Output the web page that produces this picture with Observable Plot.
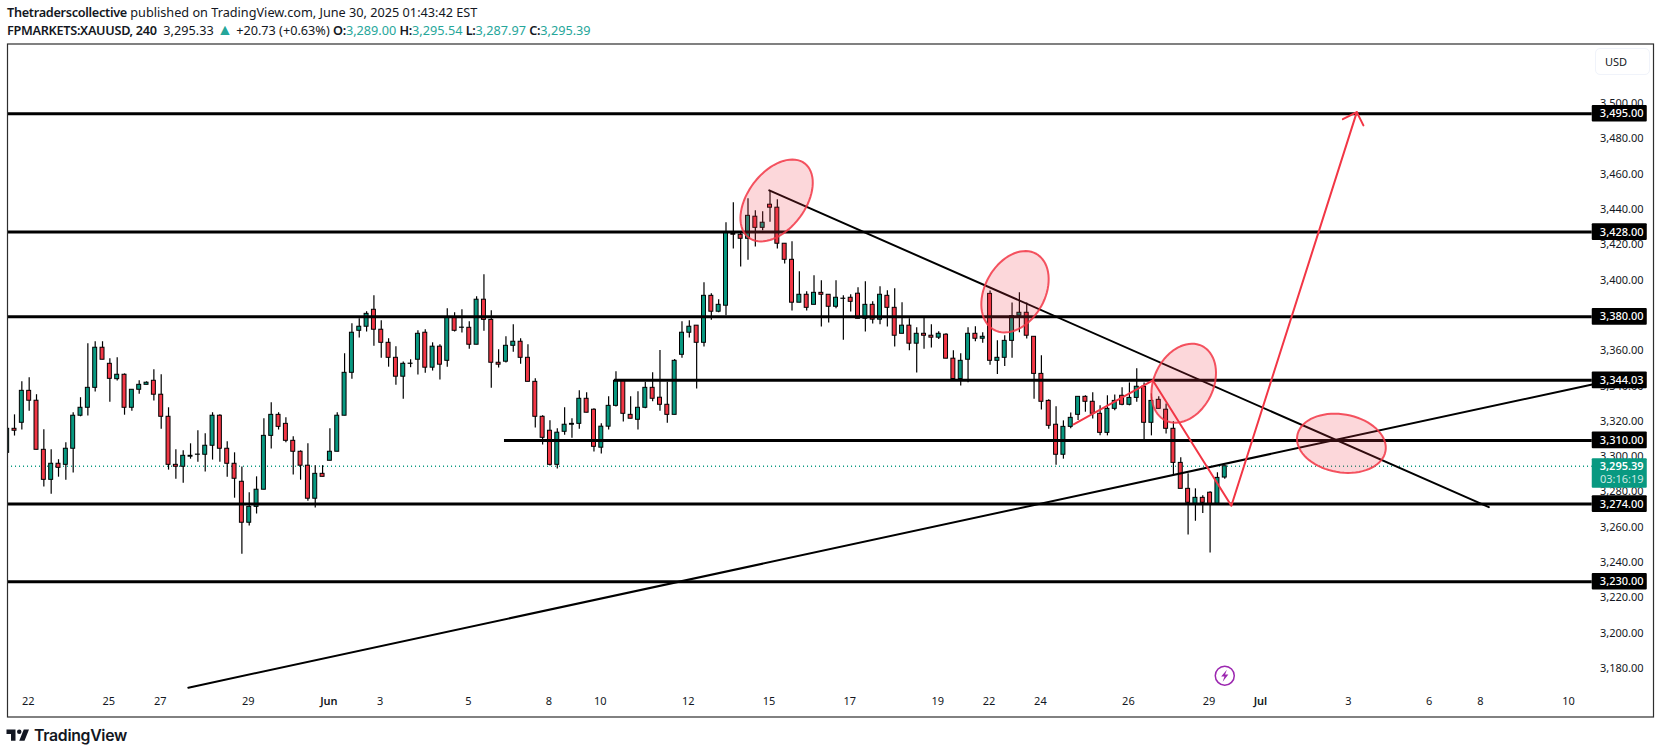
<!DOCTYPE html>
<html>
<head>
<meta charset="utf-8">
<script src="https://cdn.jsdelivr.net/npm/d3@7"></script>
<script src="https://cdn.jsdelivr.net/npm/@observablehq/plot@0.6"></script>
<style>
  body { margin: 0; background: #fff; color: #131722; font-family: "Noto Sans", sans-serif; overflow: hidden; }
  #page { position: relative; width: 1660px; height: 753px; }
  #head { position: absolute; left: 7px; top: 4px; font-size: 12.7px; line-height: 17.5px; white-space: nowrap; }
  #head b { font-weight: 600; letter-spacing: -0.3px; }
  #head .v { color: #26a69a; }
  #head .tri { font-size: 16px; line-height: 10px; }
  #chart { position: absolute; left: 0; top: 43px; }
  #usd { position: absolute; left: 1595px; top: 48px; width: 44px; height: 25px; padding-left: 9px; line-height: 25px;
         font-size: 11px; border: 1px solid #f0f3fa; border-radius: 5px; background: #fff; }
  #logo { position: absolute; left: 5px; top: 725px; display: flex; align-items: center; gap: 2px;
          font: 600 15.8px/21px Inter, sans-serif; color: #131722; letter-spacing: -0.3px; }
</style>
</head>
<body>
<div id="page">
  <div id="head">
    <div><b>Thetraderscollective</b> published on TradingView.com, June 30, 2025 01:43:42 EST</div>
    <div><b>FPMARKETS:XAUUSD, 240</b>&nbsp; 3,295.33 <span class="v tri">▲</span> +20.73 (+0.63%) <b>O:</b><span class="v">3,289.00</span> <b>H:</b><span class="v">3,295.54</span> <b>L:</b><span class="v">3,287.97</span> <b>C:</b><span class="v">3,295.39</span></div>
  </div>
  <div id="chart"></div>
  <div id="usd">USD</div>
  <div id="logo"><svg width="27" height="21" viewBox="0 0 36 28"><path fill="#131722" d="M14 6H2v6h6v9h6V6Zm12 15h-7l6-15h7l-6 15Zm-7-9a3 3 0 1 0 0-6 3 3 0 0 0 0 6Z"/></svg><span>TradingView</span></div>
</div>
<script>
const opens = [3303.0,3316.6,3320.0,3338.1,3332.5,3304.7,3287.7,3296.8,3296.2,3305.3,
  3324.0,3328.5,3339.8,3362.5,3353.4,3344.7,3347.2,3328.5,3338.7,3341.5,
  3343.8,3335.9,3323.4,3296.2,3295.1,3300.8,3301.9,3301.9,3307.0,3324.0,
  3305.3,3296.8,3286.6,3263.4,3272.4,3282.1,3312.6,3324.5,3319.4,3309.8,
  3303.6,3295.7,3277.0,3291.1,3298.5,3303.6,3324.0,3348.3,3372.1,3374.4,
  3384.0,3372.7,3365.3,3356.8,3346.1,3353.4,3355.7,3371.0,3351.2,3363.1,
  3355.1,3379.5,3373.8,3373.8,3364.2,3389.7,3378.3,3354.0,3354.6,3363.6,
  3365.9,3356.8,3343.2,3323.4,3315.5,3296.2,3314.9,3318.9,3319.4,3333.6,
  3327.4,3305.9,3317.8,3329.6,3343.8,3324.5,3321.7,3328.5,3339.8,3334.2,
  3330.2,3324.5,3358.5,3371.0,3375.0,3365.3,3391.9,3382.9,3386.3,3427.0,
  3426.5,3424.2,3436.7,3430.4,3443.5,3441.8,3421.4,3412.3,3388.0,3392.5,
  3386.8,3393.6,3392.5,3385.7,3390.2,3390.8,3393.1,3378.9,3386.8,3378.4,
  3391.9,3385.1,3370.4,3375.0,3364.8,3370.4,3369.3,3368.2,3369.9,3356.3,
  3344.8,3355.7,3370.4,3367.6,3393.0,3355.1,3356.8,3366.4,3380.6,3382.3,
  3368.7,3347.7,3332.4,3318.9,3301.9,3317.7,3324.5,3334.7,3331.9,3325.1,
  3314.3,3327.9,3335.3,3330.2,3334.1,3340.4,3320.0,3333.0,3327.4,3316.6,
  3297.3,3282.6,3274.1,3277.5,3280.4,3274.1,3289.0]
const closes = [3316.6,3315.5,3338.1,3332.5,3304.7,3287.7,3296.8,3294.5,3305.3,3324.0,
  3328.5,3339.8,3362.5,3355.7,3344.9,3347.2,3328.5,3338.7,3341.5,3342.7,
  3335.9,3323.4,3296.2,3295.1,3301.3,3301.3,3302.0,3307.0,3324.0,3305.3,
  3296.8,3288.3,3263.4,3272.4,3282.1,3312.6,3324.5,3317.7,3309.8,3303.6,
  3295.7,3277.0,3291.1,3289.4,3303.6,3324.0,3348.3,3371.0,3374.4,3381.7,
  3372.7,3365.3,3356.8,3346.1,3353.4,3353.5,3370.4,3351.2,3363.1,3352.9,
  3379.5,3372.1,3373.9,3364.2,3389.7,3378.3,3354.0,3352.9,3363.6,3365.9,
  3356.8,3343.2,3323.4,3311.5,3296.2,3314.4,3318.9,3319.4,3333.6,3325.7,
  3306.4,3317.8,3329.6,3343.8,3325.1,3322.3,3328.5,3339.8,3333.6,3330.2,
  3324.5,3355.1,3371.0,3374.4,3365.3,3391.9,3382.9,3386.8,3427.6,3426.5,
  3424.2,3437.2,3430.4,3433.3,3441.8,3421.4,3412.3,3388.0,3392.5,3385.1,
  3393.6,3392.5,3385.7,3390.8,3390.3,3388.5,3378.9,3386.8,3378.4,3392.5,
  3385.1,3369.3,3375.0,3364.8,3370.4,3369.3,3368.2,3370.4,3356.3,3344.8,
  3355.1,3370.4,3367.6,3368.7,3355.1,3356.8,3366.4,3380.4,3382.3,3369.3,
  3347.7,3331.9,3318.3,3301.9,3317.7,3322.8,3334.7,3331.9,3325.1,3314.3,
  3327.9,3332.4,3330.2,3334.1,3340.4,3320.0,3332.4,3327.9,3316.6,3297.3,
  3282.6,3274.7,3277.5,3274.7,3273.6,3288.8,3295.39]
const highs = [3316.6,3324.5,3343.2,3345.5,3335.9,3316.0,3304.7,3299.1,3308.7,3325.7,
  3334.2,3364.7,3365.9,3365.9,3356.2,3356.8,3347.7,3338.7,3343.8,3343.2,
  3350.0,3347.2,3328.5,3304.7,3304.1,3308.1,3315.5,3313.8,3325.7,3324.5,
  3309.2,3303.0,3294.9,3280.4,3289.4,3322.3,3331.3,3325.7,3322.8,3312.1,
  3304.1,3308.1,3295.7,3295.7,3316.6,3325.7,3359.1,3376.1,3378.9,3382.9,
  3391.9,3377.8,3367.6,3363.1,3354.4,3355.7,3372.1,3372.7,3365.3,3364.2,
  3384.6,3382.3,3384.0,3377.2,3391.4,3403.8,3383.4,3361.4,3368.7,3375.5,
  3367.6,3364.2,3344.9,3324.0,3321.1,3316.6,3328.5,3322.3,3338.1,3337.0,
  3327.9,3319.4,3334.7,3348.9,3343.8,3334.7,3337.6,3343.0,3348.3,3361.0,
  3343.0,3355.8,3377.2,3377.8,3375.0,3399.3,3393.1,3389.7,3433.3,3444.6,
  3427.6,3446.9,3440.1,3439.5,3451.6,3446.3,3421.4,3422.5,3405.5,3394.2,
  3403.3,3400.4,3392.5,3400.4,3391.9,3392.5,3396.5,3399.9,3388.5,3397.0,
  3394.8,3395.9,3388.0,3378.9,3373.8,3379.3,3375.5,3371.6,3370.4,3360.8,
  3359.1,3373.8,3374.4,3371.0,3394.7,3366.4,3369.3,3387.9,3393.6,3387.9,
  3368.7,3357.9,3333.0,3329.1,3321.1,3325.5,3334.7,3335.3,3337.0,3329.6,
  3335.3,3335.8,3339.8,3342.6,3350.6,3342.6,3336.4,3334.7,3330.7,3320.6,
  3300.2,3291.1,3282.6,3278.7,3280.9,3291.7,3295.54]
const lows = [3303.0,3312.5,3315.9,3326.6,3304.7,3283.6,3279.6,3289.2,3287.5,3291.5,
  3323.4,3323.8,3337.4,3355.7,3331.7,3343.6,3324.3,3326.6,3336.2,3341.5,
  3332.3,3316.4,3293.2,3288.1,3285.8,3299.4,3297.7,3292.1,3298.9,3297.7,
  3289.2,3277.3,3245.6,3261.5,3268.3,3282.1,3305.1,3315.9,3308.7,3290.4,
  3287.5,3275.6,3271.7,3289.4,3298.5,3303.6,3324.0,3344.7,3368.0,3371.4,
  3363.4,3356.6,3351.5,3341.3,3333.4,3351.2,3347.0,3348.1,3349.3,3344.2,
  3351.5,3371.4,3370.8,3361.7,3364.2,3371.9,3339.6,3351.0,3353.8,3360.0,
  3353.2,3343.2,3317.0,3307.4,3295.5,3293.8,3313.0,3311.3,3316.4,3325.7,
  3303.4,3302.3,3315.9,3328.9,3320.4,3322.3,3315.9,3327.9,3331.9,3326.6,
  3319.8,3324.5,3356.6,3368.0,3339.1,3362.9,3378.0,3382.3,3380.6,3418.4,
  3408.2,3412.1,3419.5,3428.7,3433.5,3418.4,3409.9,3383.3,3388.0,3383.3,
  3386.8,3374.2,3376.5,3384.6,3366.8,3382.7,3378.9,3371.4,3375.9,3375.5,
  3374.2,3362.9,3370.4,3360.8,3348.2,3361.7,3362.3,3367.2,3356.3,3344.0,
  3340.8,3342.7,3365.9,3365.1,3352.6,3347.4,3351.9,3356.6,3371.0,3367.4,
  3333.4,3327.2,3316.4,3296.0,3299.4,3316.6,3321.3,3326.0,3322.1,3312.6,
  3312.6,3326.8,3329.6,3329.6,3331.7,3310.4,3312.6,3327.9,3313.6,3290.5,
  3282.6,3256.4,3264.3,3268.7,3246.2,3274.1,3287.97]

// horizontal levels and the bar where each one starts
const levels = [3495, 3428, 3380, 3344.03, 3310, 3274, 3230]
const levelStarts = [0.05, 0.05, 0.05, 82.8, 67.8, 0.05, 0.05]
const lastPrice = 3295.39
const countdown = "03:16:19"

const priceTicks = [3180,3200,3220,3240,3260,3280,3300,3320,3340,3360,3380,3400,3420,3440,3460,3480,3500]
const dayBars = [3,14,21,33,51,63,74,81,93,104,115,127,134,141,153,164,183,194,201,213]
const dayLabels = ["22","25","27","29","3","5","8","10","12","15","17","19","22","24","26","29","3","6","8","10"]
const monthBars = [44,171]
const monthLabels = ["Jun","Jul"]

// drawings, [bar, price]
const trendUp = [[24.7,3170.0],[216.1,3341.7]]
const trendDown = [[103.9,3451.6],[202.0,3272.2]]
const redPath = [[145.4,3319.1],[156.2,3344.0],[166.9,3273.0],[184.0,3495.9]]
const redHead = [[182.1,3491.9],[184.0,3495.9],[184.9,3488.4]]
// ellipses: centre bar, centre price, long radius px, short radius px, tilt degrees
const ellipseBars = [104.9,137.4,160.4,181.9]
const ellipsePrices = [3445.9,3394.2,3342.4,3308.4]
const ellipseLong = [46.5,43.5,41.5,44.8]
const ellipseShort = [28.7,30,29.7,29]
const ellipseTilt = [53,60.9,64,-10]

const green = "#089981", red = "#f23645"
const barPx = 7.335, usdPx = 1.766
const boxLeft = 216.1, boxRight = 223.6, labelBar = 223.1, fmt = d3.format(",.2f")

const candles = opens.map((o, i) => ({bar: i, open: o, close: closes[i], high: highs[i], low: lows[i]}))
const ups = candles.filter(d => d.close >= d.open)
const downs = candles.filter(d => d.close < d.open)

const levelRows = levels.map((p, i) => ({price: p, start: levelStarts[i]}))

const ellipsePoints = ellipseBars.flatMap((b, k) => {
  const th = ellipseTilt[k] * Math.PI / 180
  return d3.range(0, 73).map(j => {
    const t = j * 5 * Math.PI / 180
    const dx = ellipseLong[k] * Math.cos(t) * Math.cos(th) - ellipseShort[k] * Math.sin(t) * Math.sin(th)
    const dy = ellipseLong[k] * Math.cos(t) * Math.sin(th) + ellipseShort[k] * Math.sin(t) * Math.cos(th)
    return {k, bar: b + dx / barPx, price: ellipsePrices[k] + dy / usdPx}
  })
})

const bolt = {
  draw(ctx, size) {
    const r = Math.sqrt(size / Math.PI)
    ctx.moveTo(0.35 * r, -r)
    ctx.lineTo(-0.6 * r, 0.15 * r)
    ctx.lineTo(-0.05 * r, 0.15 * r)
    ctx.lineTo(-0.35 * r, r)
    ctx.lineTo(0.6 * r, -0.2 * r)
    ctx.lineTo(0.05 * r, -0.2 * r)
    ctx.closePath()
  }
}

const body = (rows, fill) => Plot.rect(rows, {
  x1: d => d.bar - 0.27, x2: d => d.bar + 0.27,
  y1: "open", y2: "close", fill, stroke: "#000", strokeWidth: 1, clip: true
})

const chart = Plot.plot({
  width: 1660,
  height: 674,
  marginLeft: 7, marginRight: 7, marginTop: 0.5, marginBottom: 0.5,
  x: {domain: [0.045, 224.45]},
  y: {domain: [3153.4, 3534.5], axis: null},
  style: {fontFamily: '"Noto Sans", sans-serif', fontSize: "11px", color: "#131722", background: "transparent", overflow: "visible"},
  marks: [
    Plot.axisX(dayBars, {anchor: "bottom", tickSize: 0, tickPadding: 0, dy: -20, dx: -1, label: null, fontSize: 11,
      tickFormat: d => dayLabels[dayBars.indexOf(d)]}),
    Plot.axisX(monthBars, {anchor: "bottom", tickSize: 0, tickPadding: 0, dy: -20, dx: -1, label: null, fontSize: 11, fontWeight: 600,
      tickFormat: d => monthLabels[monthBars.indexOf(d)]}),
    Plot.text(priceTicks, {x: labelBar, y: d => d, text: d => fmt(d), textAnchor: "end", dy: -1.5, fontSize: 11, fill: "#131722"}),

    Plot.ruleY([lastPrice], {x1: 0.05, x2: boxLeft, stroke: green, strokeWidth: 1.3, strokeDasharray: "1,3"}),
    Plot.ruleX(candles, {x: "bar", y1: "low", y2: "high", stroke: "#000", strokeWidth: 1.2, clip: true}),
    body(ups, green),
    body(downs, red),

    Plot.ruleY(levelRows, {y: "price", x1: "start", x2: boxRight - 7.5, stroke: "#000", strokeWidth: 3}),
    Plot.line(trendUp, {x: d => d[0], y: d => d[1], stroke: "#000", strokeWidth: 2}),
    Plot.line(trendDown, {x: d => d[0], y: d => d[1], stroke: "#000", strokeWidth: 2}),
    Plot.line(redPath, {x: d => d[0], y: d => d[1], stroke: red, strokeWidth: 2}),
    Plot.line(redHead, {x: d => d[0], y: d => d[1], stroke: red, strokeWidth: 2}),
    Plot.line(ellipsePoints, {x: "bar", y: "price", z: "k", curve: "linear", stroke: red, strokeOpacity: 0.85, strokeWidth: 2, fill: red, fillOpacity: 0.2}),

    // price labels on the right
    Plot.rect(levels, {x1: boxLeft, x2: boxRight, y1: d => d - 4.73, y2: d => d + 4.73, fill: "#000", rx: 1}),
    Plot.text(levels, {x: labelBar, y: d => d, text: d => fmt(d), textAnchor: "end", fontSize: 11, fontWeight: 500, fill: "#fff"}),
    Plot.rect([lastPrice], {x1: boxLeft, x2: boxRight, y1: d => d - 12.4, y2: d => d + 4.2, fill: green, rx: 1}),
    Plot.text([lastPrice], {x: labelBar, y: d => d, text: d => fmt(d), textAnchor: "end", fontSize: 11, fontWeight: 600, fill: "#fff"}),
    Plot.text([countdown], {x: labelBar, y: lastPrice - 7.5, text: d => d, textAnchor: "end", fontSize: 11, fill: "#fff", fillOpacity: 0.8}),

    // dividends icon
    Plot.dot([[166, 3176.8]], {x: d => d[0], y: d => d[1], r: 9.5, stroke: "#9c27b0", strokeWidth: 1.5, fill: "#fff"}),
    Plot.dot([[166, 3176.8]], {x: d => d[0], y: d => d[1], r: 6, symbol: bolt, fill: "#9c27b0", stroke: "none"}),

    Plot.frame({stroke: "#2e2e2e", strokeWidth: 1.2})
  ]
})
d3.select("#chart").append(() => chart)
</script>
</body>
</html>
